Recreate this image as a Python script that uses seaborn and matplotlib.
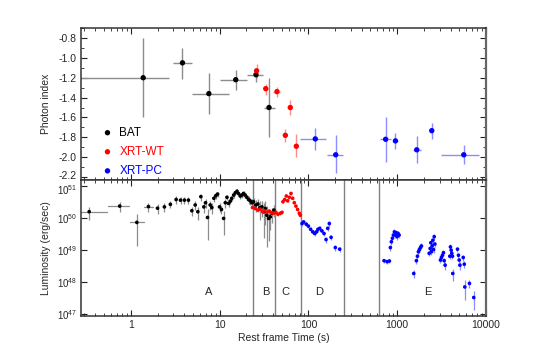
"""GRB light curve + photon index evolution (BAT / XRT-WT / XRT-PC)."""
import matplotlib

matplotlib.use("Agg")
import matplotlib.pyplot as plt
import matplotlib.transforms as mtransforms
import numpy as np
import pandas as pd
import seaborn as sns
from matplotlib.ticker import (FixedLocator, FormatStrFormatter, FuncFormatter,
                               LogLocator, MultipleLocator, NullFormatter, NullLocator)

# ---- photon index (top panel) ----
bat_t = [1.38, 3.82, 7.57, 15.2, 25.7, 36.0]
bat_t_lo = [0.20, 3.02, 4.87, 10.0, 20.6, 31.3]
bat_t_hi = [2.72, 4.87, 12.8, 20.4, 30.8, 42.4]
bat_g = [-1.20, -1.05, -1.36, -1.22, -1.17, -1.50]
bat_g_lo = [-1.60, -1.21, -1.57, -1.32, -1.24, -1.80]
bat_g_hi = [-0.80, -0.90, -1.15, -1.12, -1.12, -1.20]

wt_t = [26.1, 33.1, 44.3, 55.0, 62.5, 73.1]
wt_t_lo = [24.8, 31.5, 40.3, 52.5, 60.0, 70.0]
wt_t_hi = [27.4, 34.8, 48.5, 57.5, 65.0, 76.0]
wt_g = [-1.13, -1.31, -1.34, -1.78, -1.50, -1.89]
wt_g_lo = [-1.20, -1.37, -1.39, -1.85, -1.58, -2.00]
wt_g_hi = [-1.06, -1.26, -1.29, -1.72, -1.42, -1.77]

pc_t = [119.6, 203, 741, 955, 1660, 2450, 5620]
pc_t_lo = [81, 164, 635, 890, 1510, 2350, 3125]
pc_t_hi = [158.7, 245, 851, 1030, 1860, 2560, 8300]
pc_g = [-1.816, -1.976, -1.82, -1.836, -1.926, -1.733, -1.976]
pc_g_lo = [-1.923, -2.16, -2.05, -1.92, -2.06, -1.816, -2.07]
pc_g_hi = [-1.706, -1.78, -1.596, -1.756, -1.79, -1.656, -1.88]

# ---- luminosity light curve (bottom panel), log10 L and fractional error ----
bat_lc_t = [0.34, 0.75, 1.17, 1.58, 2.0, 2.39, 2.79, 3.24, 3.63, 4.02, 4.46, 4.87,
            5.31, 5.69, 6.15, 6.65, 6.94, 7.31, 7.83, 8.18, 8.62, 9.08, 9.48, 9.98,
            10.5, 11.1, 11.6, 12.1, 12.6, 13.2, 13.7, 14.4, 15.0, 15.7, 16.3, 17.1,
            17.8, 18.6, 19.4, 20.3, 21.2, 22.1, 23.1, 24.1, 25.6, 27.0, 28.5, 30.0,
            31.3, 32.7, 34.1, 35.6, 37.2, 38.9, 40.9]
bat_lc_logl = [50.20, 50.375, 49.866, 50.36, 50.31, 50.35, 50.43, 50.58, 50.56, 50.56,
               50.56, 50.23, 50.41, 50.20, 50.67, 50.35, 50.48, 50.02, 50.41, 50.33,
               50.62, 50.70, 50.75, 50.35, 50.27, 49.99, 50.48, 50.65, 50.46, 50.53,
               50.62, 50.72, 50.79, 50.84, 50.77, 50.69, 50.72, 50.77, 50.72, 50.65,
               50.58, 50.54, 50.48, 50.51, 50.41, 50.44, 50.33, 50.35, 50.20, 50.30,
               50.09, 49.99, 50.04, 50.15, 50.25]
bat_lc_ferr = [0.45, 0.35, 0.82, 0.32, 0.35, 0.3, 0.25, 0.3, 0.25, 0.25, 0.25, 0.3,
               0.3, 0.45, 0.25, 0.35, 0.3, 0.8, 0.3, 0.35, 0.25, 0.2, 0.2, 0.3,
               0.3, 0.7, 0.3, 0.2, 0.25, 0.2, 0.2, 0.2, 0.15, 0.15, 0.15, 0.2,
               0.2, 0.2, 0.2, 0.2, 0.25, 0.25, 0.3, 0.35, 0.4, 0.4, 0.6, 0.5,
               0.85, 0.7, 0.9, 0.8, 0.6, 0.5, 0.4]
bat_lc_t_lo = [0.20, 0.555, 0.98, 1.41] + [None] * 51
bat_lc_t_hi = [0.545, 0.96, 1.41, 1.77] + [None] * 51

wt_lc_t = [23.5, 25.2, 27.0, 28.7, 30.5, 32.1, 34.1, 36.3, 38.2, 40.5, 43.1, 45.4, 48.2,
           50.4, 51.7, 53.9, 56.4, 58.3, 60.9, 63.7, 66.4, 69.4, 72.4, 75.5, 79.0, 81.0]
wt_lc_logl = [50.33, 50.30, 50.25, 50.28, 50.20, 50.23, 50.18, 50.22, 50.17, 50.15,
              50.18, 50.12, 50.15, 50.18, 50.51, 50.58, 50.69, 50.54, 50.65, 50.77,
              50.62, 50.48, 50.375, 50.27, 50.15, 50.09]
wt_lc_ferr = [0.1] * 26

pc_lc_t = [84.7, 88.3, 94.6, 100, 106, 112, 117.5, 123, 128, 134, 142, 150, 158, 165,
           172, 180, 201, 225,
           711, 769, 817, 838, 860, 883, 906, 930, 955, 980, 997, 1023, 1050,
           1535, 1645, 1690, 1734, 1778, 1827, 1875,
           2290, 2350, 2390, 2430, 2475, 2520, 2565, 2610, 2655,
           3070, 3150, 3235, 3320, 3380, 3465,
           3910, 3980, 4050, 4115, 4190, 4225,
           4775, 4900, 4990, 5080,
           5540, 5690, 5770, 6510, 7280]
pc_lc_logl = [49.83, 49.88, 49.81, 49.75, 49.65, 49.57, 49.52, 49.57, 49.65, 49.68,
              49.60, 49.52, 49.33, 49.68, 49.83, 49.40, 49.08, 49.03,
              48.67, 48.64, 48.66, 49.08, 49.26, 49.37, 49.47, 49.57, 49.47, 49.54,
              49.42, 49.52, 49.47,
              48.27, 48.67, 48.81, 48.95, 49.02, 49.08, 49.13,
              48.90, 49.05, 49.23, 48.95, 49.13, 49.31, 49.02, 49.42, 49.19,
              48.69, 48.77, 48.84, 48.92, 48.67, 48.53,
              48.81, 49.10, 49.00, 48.90, 48.81, 48.27,
              49.03, 48.84, 48.69, 48.53,
              48.77, 48.56, 47.85, 47.96, 47.52]
pc_lc_ferr = [0.15, 0.15, 0.15, 0.15, 0.15, 0.15, 0.15, 0.15, 0.15, 0.15,
              0.15, 0.15, 0.2, 0.2, 0.2, 0.2, 0.2, 0.2,
              0.15, 0.15, 0.15, 0.2, 0.2, 0.2, 0.2, 0.2, 0.2, 0.2,
              0.2, 0.2, 0.2,
              0.3, 0.2, 0.2, 0.2, 0.2, 0.2, 0.2,
              0.2, 0.2, 0.2, 0.2, 0.2, 0.2, 0.2, 0.2, 0.2,
              0.2, 0.2, 0.2, 0.2, 0.2, 0.3,
              0.2, 0.2, 0.2, 0.2, 0.2, 0.4,
              0.2, 0.2, 0.2, 0.3,
              0.2, 0.25, 0.6, 0.3, 0.6]

# segment boundaries and labels
seg_edges = [23.5, 42.0, 83.2, 252, 630]
seg_names = ["A", "B", "C", "D", "E"]
seg_x = [7.6, 32.9, 55.0, 133, 2190]

sns.set_style("ticks")
plt.rcParams["font.family"] = ["Liberation Sans", "DejaVu Sans"]

fig = plt.figure(figsize=(5.4, 3.6), dpi=100)
ax1 = fig.add_axes([0.15, 0.5, 0.75, 0.422])
ax2 = fig.add_axes([0.15, 0.122, 0.75, 0.378], sharex=ax1)

series = [
    ("BAT", "black", "#8c8c8c", bat_t, bat_t_lo, bat_t_hi, bat_g, bat_g_lo, bat_g_hi),
    ("XRT-WT", "#ff0000", "#ff8c8c", wt_t, wt_t_lo, wt_t_hi, wt_g, wt_g_lo, wt_g_hi),
    ("XRT-PC", "#0000ff", "#8c8cff", pc_t, pc_t_lo, pc_t_hi, pc_g, pc_g_lo, pc_g_hi),
]
for name, col, ecol, t, tlo, thi, g, glo, ghi in series:
    t = np.array(t); g = np.array(g)
    xerr = [t - np.array(tlo), np.array(thi) - t]
    yerr = [g - np.array(glo), np.array(ghi) - g]
    ax1.errorbar(t, g, xerr=xerr, yerr=yerr, fmt="none", ecolor=ecol, elinewidth=1.0, zorder=1)
    df = pd.DataFrame({"t": t, "g": g})
    sns.scatterplot(data=df, x="t", y="g", ax=ax1, color=col, s=15, edgecolor="none",
                    label=name, zorder=3)

lc = [
    ("black", "#8c8c8c", bat_lc_t, bat_lc_logl, bat_lc_ferr),
    ("#ff0000", "#ff8c8c", wt_lc_t, wt_lc_logl, wt_lc_ferr),
    ("#0000ff", "#8c8cff", pc_lc_t, pc_lc_logl, pc_lc_ferr),
]
for col, ecol, t, logl, ferr in lc:
    t = np.array(t)
    lum = 10.0 ** np.array(logl)
    ax2.errorbar(t, lum, yerr=lum * np.array(ferr), fmt="none", ecolor=ecol,
                 elinewidth=0.9, zorder=1)
    sns.scatterplot(x=t, y=lum, ax=ax2, color=col, s=7, edgecolor="none", zorder=3,
                    legend=False)

# horizontal bins of the early BAT points
for t, lo, hi, logl in zip(bat_lc_t, bat_lc_t_lo, bat_lc_t_hi, bat_lc_logl):
    if lo is not None:
        ax2.plot([lo, hi], [10 ** logl] * 2, color="#8c8c8c", lw=0.9, zorder=1)

for e in seg_edges:
    ax2.axvline(e, color="#808080", lw=1.0, zorder=0)
for x, n in zip(seg_x, seg_names):
    ax2.text(x, 5e47, n, ha="center", va="center", fontsize=8)

ax1.set_xscale("log")
ax2.set_yscale("log")
ax1.set_xlim(0.275, 10000)
ax1.set_ylim(-2.23, -0.7)
ax2.set_ylim(10 ** 46.94, 10 ** 51.19)

ax1.yaxis.set_major_locator(FixedLocator([-2.2, -2.0, -1.8, -1.6, -1.4, -1.2, -1.0, -0.8]))
ax1.yaxis.set_major_formatter(FormatStrFormatter("%.1f"))
ax1.yaxis.set_minor_locator(MultipleLocator(0.1))
ax2.yaxis.set_major_locator(FixedLocator([1e47, 1e48, 1e49, 1e50, 1e51]))
ax2.yaxis.set_minor_locator(NullLocator())
ax2.xaxis.set_major_locator(FixedLocator([1, 10, 100, 1000, 10000]))
ax2.xaxis.set_minor_locator(LogLocator(base=10, subs=np.arange(2, 10)))
ax2.xaxis.set_major_formatter(FuncFormatter(lambda v, p: f"{v:g}"))
ax2.xaxis.set_minor_formatter(NullFormatter())
plt.setp(ax1.get_xticklabels(), visible=False)

for ax in (ax1, ax2):
    ax.tick_params(which="both", direction="in", top=True, right=True, labelsize=7.5,
                   color="#222222", pad=3)
    ax.tick_params(which="major", length=4, width=0.8)
    ax.tick_params(which="minor", length=2, width=0.6)
    for s in ax.spines.values():
        s.set_linewidth(1.1)
        s.set_color("#333333")
    ax.spines["right"].set_linewidth(1.6)
    ax.spines["right"].set_color("#666666")
ax2.tick_params(axis="y", labelsize=7)

ax1.set_xlabel("")
ax1.set_ylabel("Photon index", fontsize=7.5)
ax2.set_ylabel("Luminosity (erg/sec)", fontsize=7.5)
ax2.set_xlabel("Rest frame Time (s)", fontsize=7.5, labelpad=2)
ax1.yaxis.set_label_coords(-0.075, 0.5)
ax2.yaxis.set_label_coords(-0.075, 0.5)

ax1.legend(loc="lower left", bbox_to_anchor=(0.01, -0.05), frameon=False,
           fontsize=8.5, handletextpad=0.0, labelspacing=0.6, markerscale=1.0,
           labelcolor="markerfacecolor")

# keep the -2.2 and 10^51 labels at the panel join from touching
fig.canvas.draw()
shift_up = mtransforms.ScaledTranslation(0, 1.5 / 72, fig.dpi_scale_trans)
shift_dn = mtransforms.ScaledTranslation(0, -2.0 / 72, fig.dpi_scale_trans)
ax1.get_yticklabels()[0].set_transform(ax1.get_yticklabels()[0].get_transform() + shift_up)
ax2.get_yticklabels()[-1].set_transform(ax2.get_yticklabels()[-1].get_transform() + shift_dn)

fig.savefig("out.png", dpi=100)
